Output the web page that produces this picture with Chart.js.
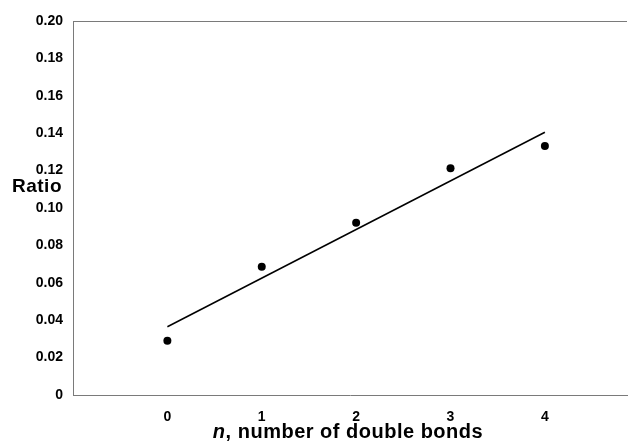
<!DOCTYPE html>
<html>
<head>
<meta charset="utf-8">
<script src="https://cdn.jsdelivr.net/npm/chart.js@4/dist/chart.umd.min.js"></script>
<style>
  html, body { margin: 0; padding: 0; background: #fff; }
  #wrap { width: 631px; height: 447px; }
</style>
</head>
<body>
<div id="wrap"><canvas id="c" width="631" height="447"></canvas></div>
<script>
// Data
const nValues = [0, 1, 2, 3, 4];
const ratioValues = [0.029, 0.0686, 0.0921, 0.1212, 0.1332];
const fitX = [0, 4];
const fitY = [0.0365, 0.1405];
const xTickValues = [0, 1, 2, 3, 4];
const yTickValues = [0, 0.02, 0.04, 0.06, 0.08, 0.10, 0.12, 0.14, 0.16, 0.18, 0.20];
const yTitle = 'Ratio';
const xTitleItalic = 'n';
const xTitleRest = ', number of double bonds';

const FONT = '"Liberation Sans", Arial, sans-serif';
const AXIS_COLOR = '#7a7a7a';

const labelsPlugin = {
  id: 'labels',
  afterDraw(chart) {
    const ctx = chart.ctx;
    const a = chart.chartArea;
    ctx.save();
    // top border line
    ctx.strokeStyle = AXIS_COLOR;
    ctx.lineWidth = 1;
    ctx.beginPath();
    ctx.moveTo(a.left, a.top + 0.5);
    ctx.lineTo(a.right, a.top + 0.5);
    ctx.stroke();
    // Y title (horizontal)
    ctx.fillStyle = '#000';
    ctx.font = 'bold 19px ' + FONT;
    ctx.letterSpacing = '0.5px';
    ctx.textAlign = 'left';
    ctx.textBaseline = 'alphabetic';
    ctx.fillText(yTitle, 12, 192);
    // X title with italic n
    ctx.letterSpacing = '0.5px';
    const f1 = 'italic bold 20px ' + FONT;
    const f2 = 'bold 20px ' + FONT;
    ctx.font = f1;
    const w1 = ctx.measureText(xTitleItalic).width;
    ctx.font = f2;
    const w2 = ctx.measureText(xTitleRest).width;
    const cx = 348;
    const x0 = cx - (w1 + w2) / 2;
    const y = 438;
    ctx.font = f1;
    ctx.fillText(xTitleItalic, x0, y);
    ctx.font = f2;
    ctx.fillText(xTitleRest, x0 + w1, y);
    ctx.restore();
  }
};

new Chart(document.getElementById('c'), {
  type: 'scatter',
  data: {
    datasets: [
      {
        label: 'data',
        data: nValues.map((x, i) => ({ x: x, y: ratioValues[i] })),
        pointRadius: 4,
        pointBackgroundColor: '#000',
        pointBorderColor: '#000',
        pointBorderWidth: 0,
        showLine: false
      },
      {
        label: 'fit',
        data: fitX.map((x, i) => ({ x: x, y: fitY[i] })),
        showLine: true,
        borderColor: '#000',
        borderWidth: 1.5,
        pointRadius: 0,
        fill: false
      }
    ]
  },
  options: {
    responsive: false,
    animation: false,
    devicePixelRatio: 1,
    layout: { padding: { top: 21, right: 0, left: 0, bottom: 0 } },
    plugins: { legend: { display: false }, tooltip: { enabled: false } },
    scales: {
      x: {
        type: 'linear',
        min: -1,
        max: 4.87,
        grid: { display: false, drawTicks: false },
        border: { display: true, color: AXIS_COLOR, width: 1 },
        afterBuildTicks(scale) { scale.ticks = xTickValues.map(v => ({ value: v })); },
        afterFit(scale) { scale.height = 52; },
        ticks: {
          color: '#000',
          padding: 14,
          font: { family: FONT, size: 14, weight: 'bold' },
          callback: v => String(v)
        }
      },
      y: {
        type: 'linear',
        min: 0,
        max: 0.2,
        grid: { display: false, drawTicks: false },
        border: { display: true, color: AXIS_COLOR, width: 1 },
        afterBuildTicks(scale) { scale.ticks = yTickValues.map(v => ({ value: v })); },
        afterFit(scale) { scale.width = 73; },
        ticks: {
          color: '#000',
          padding: 10,
          font: { family: FONT, size: 14, weight: 'bold' },
          callback: v => (v === 0 ? '0' : v.toFixed(2))
        }
      }
    }
  },
  plugins: [labelsPlugin]
});
</script>
</body>
</html>
